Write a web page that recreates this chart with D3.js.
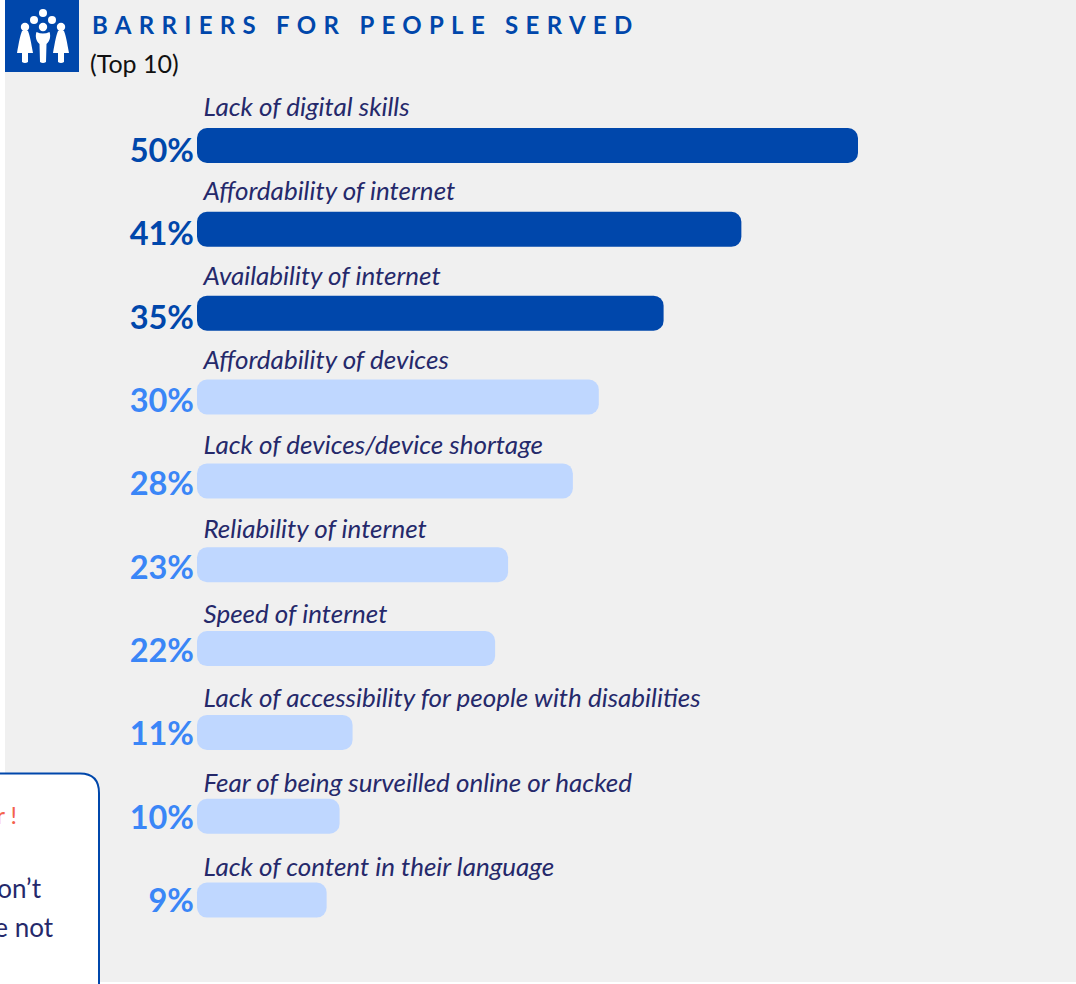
<!DOCTYPE html>
<html>
<head>
<meta charset="utf-8">
<style>
  html, body { margin: 0; padding: 0; background: #fff; overflow: hidden; }
  svg { display: block; }
  text { font-family: Lato, "Open Sans", sans-serif; }
</style>
<script src="https://cdn.jsdelivr.net/npm/d3@7/dist/d3.min.js"></script>
</head>
<body>
<svg id="chart" width="1076" height="984"></svg>
<script>
const categories = [
  "Lack of digital skills",
  "Affordability of internet",
  "Availability of internet",
  "Affordability of devices",
  "Lack of devices/device shortage",
  "Reliability of internet",
  "Speed of internet",
  "Lack of accessibility for people with disabilities",
  "Fear of being surveilled online or hacked",
  "Lack of content in their language"
];
const percentages = [50, 41, 35, 30, 28, 23, 22, 11, 10, 9];
const highlightedCount = 3;

const DARK = "#0047ab", LIGHT = "#bfd7ff", MID = "#3a86f7", INK = "#25296b";

const svg = d3.select("#chart");

// Panel background
svg.append("rect").attr("x", 5).attr("y", 0).attr("width", 1071).attr("height", 982).attr("fill", "#f0f0f0");

// Value scale: bars keep a fixed rounded lead-in left of the zero position
const leadIn = 13;
const x = d3.scaleLinear().domain([0, 50]).range([210, 858]);
const y = d3.scaleBand().domain(categories).range([128, 917.6]).paddingInner(0.5826).paddingOuter(0);
// Category captions and value labels sit on their own slightly different rhythms
const captionY = d3.scalePoint().domain(categories).range([116, 876]);
const valueY = d3.scalePoint().domain(categories).range([162, 912]);

const rows = svg.selectAll("g.row")
  .data(categories.map((name, i) => ({ name, value: percentages[i], i })))
  .join("g").attr("class", "row");

rows.append("rect")
  .attr("x", x(0) - leadIn)
  .attr("y", d => y(d.name))
  .attr("width", d => x(d.value) - x(0) + leadIn)
  .attr("height", y.bandwidth())
  .attr("rx", 10)
  .attr("fill", d => d.i < highlightedCount ? DARK : LIGHT);

rows.append("text")
  .attr("x", 203.5)
  .attr("y", d => captionY(d.name))
  .attr("font-size", 26)
  .attr("font-style", "italic")
  .attr("fill", INK)
  .text(d => d.name);

rows.append("text")
  .attr("x", 194)
  .attr("y", d => valueY(d.name))
  .attr("text-anchor", "end")
  .attr("font-size", 32.5)
  .attr("font-weight", 700)
  .attr("fill", d => d.i < highlightedCount ? DARK : MID)
  .text(d => d.value + "%");

// Header
svg.append("text").attr("x", 92).attr("y", 34).attr("font-size", 24).attr("font-weight", 700)
  .attr("fill", DARK).attr("letter-spacing", 7.3).text("BARRIERS FOR PEOPLE SERVED");
svg.append("text").attr("x", 90).attr("y", 73).attr("font-size", 25).attr("fill", "#111").text("(Top 10)");

// Icon tile with the group of figures
svg.append("rect").attr("x", 5).attr("y", 0).attr("width", 74).attr("height", 72).attr("fill", DARK);
const icon = svg.append("g").attr("fill", "#fff");
[[43, 13, 4], [34, 20, 4], [52, 20, 4], [25, 27, 4.2], [43, 27, 4.2], [61, 27, 4.2]]
  .forEach(([cx, cy, r]) => icon.append("circle").attr("cx", cx).attr("cy", cy).attr("r", r));
const skirt = "M-3,-1 Q0,-2 3,-1 C5,4 6,10 8,21 L3,21 L3,30 Q0,32 -3,30 L-3,21 L-8,21 C-6,10 -5,4 -3,-1 Z";
const suit = "M-6.5,0 Q0,3 6.5,0 C8,4 7,9 3.5,12 L3,30 Q0,32 -3,30 L-3.5,12 C-7,9 -8,4 -6.5,0 Z";
icon.append("path").attr("transform", "translate(25,32)").attr("d", skirt);
icon.append("path").attr("transform", "translate(43,32)").attr("d", suit);
icon.append("path").attr("transform", "translate(61,32)").attr("d", skirt);

// Callout box running off the left and bottom edges
svg.append("path")
  .attr("d", "M-4,773.5 H80 Q99,773.5 99,793 V990 H-4 Z")
  .attr("fill", "#fff").attr("stroke", DARK).attr("stroke-width", 2);
svg.append("text").attr("x", 17).attr("y", 824).attr("text-anchor", "end").attr("font-size", 24).attr("fill", "#f4614d").text("r !");
svg.append("text").attr("x", 41).attr("y", 898).attr("text-anchor", "end").attr("font-size", 26).attr("fill", INK).text("on\u2019t");
svg.append("text").attr("x", 53).attr("y", 937).attr("text-anchor", "end").attr("font-size", 26).attr("fill", INK).text("e not");
</script>
</body>
</html>
